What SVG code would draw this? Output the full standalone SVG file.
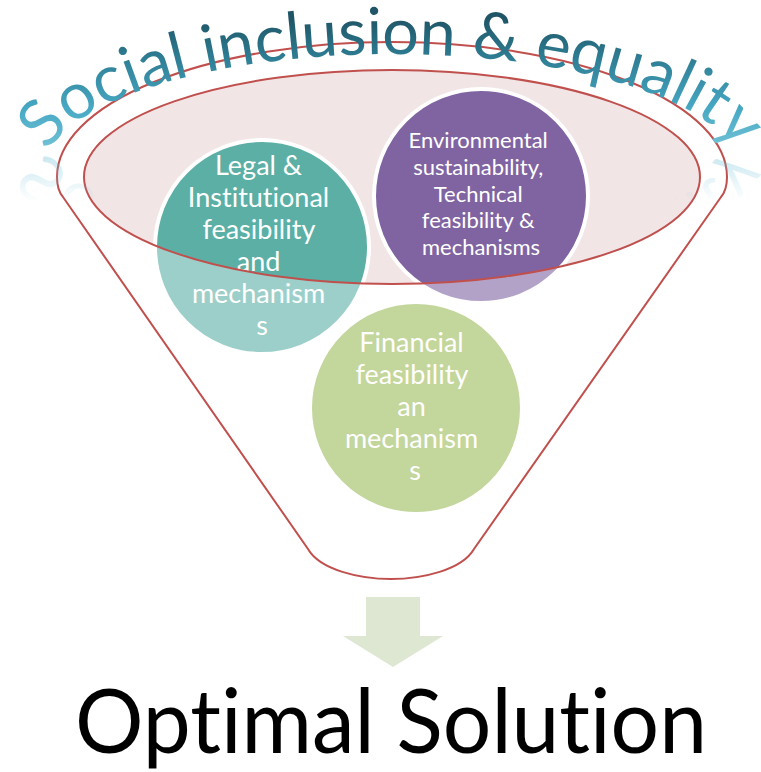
<svg xmlns="http://www.w3.org/2000/svg" width="761" height="772" viewBox="0 0 761 772">
  <defs>
    <style>
      text { font-variant-ligatures: none; font-feature-settings: "liga" 0, "clig" 0; }
      .lbl { font-family: Lato, "Open Sans", "Liberation Sans", sans-serif; fill: #FFFFFF; text-anchor: middle; }
      .big { font-size: 27px; }
      .small { font-size: 22px; }
      .ring { stroke: #FFFFFF; stroke-width: 4; }
      .red { fill: none; stroke: #C0504D; stroke-width: 2; }
      .title { font-family: Lato, "Open Sans", "Liberation Sans", sans-serif; font-size: 65px; }
    </style>
    <linearGradient id="titleGrad" gradientUnits="userSpaceOnUse" x1="0" y1="18" x2="0" y2="158">
      <stop offset="0" stop-color="#1F5566"/>
      <stop offset="0.3" stop-color="#2F7F96"/>
      <stop offset="0.65" stop-color="#48A9C4"/>
      <stop offset="1" stop-color="#7CC8DA"/>
    </linearGradient>
    <linearGradient id="reflGrad" gradientUnits="userSpaceOnUse" x1="0" y1="151" x2="0" y2="100">
      <stop offset="0" stop-color="#6CC0D6" stop-opacity="0.4"/>
      <stop offset="1" stop-color="#6CC0D6" stop-opacity="0"/>
    </linearGradient>
    <path id="arc" d="M 48,152 A 350 120 0 0 1 735,150"/>
  </defs>

  <rect width="761" height="772" fill="#FFFFFF"/>

  <g id="funnel-top">
    <ellipse cx="392" cy="177" rx="308" ry="107" fill="#F2E5E5"/>
  </g>

  <g id="node-legal">
    <circle cx="262" cy="247" r="107" fill="#5BAFA5" class="ring"/>
    <text class="lbl big" x="262">
      <tspan x="262" y="175">Legal &amp;</tspan>
      <tspan x="262" y="207">Institutional</tspan>
      <tspan x="262" y="239">feasibility</tspan>
      <tspan x="262" y="271">and</tspan>
      <tspan x="262" y="303">mechanism</tspan>
      <tspan x="262" y="335">s</tspan>
    </text>
  </g>

  <g id="node-environment">
    <circle cx="481" cy="196" r="107" fill="#8064A2" class="ring"/>
    <text class="lbl small" x="481">
      <tspan x="481" y="148">Environmental</tspan>
      <tspan x="481" y="175">sustainability,</tspan>
      <tspan x="481" y="202">Technical</tspan>
      <tspan x="481" y="228">feasibility &amp;</tspan>
      <tspan x="481" y="255">mechanisms</tspan>
    </text>
  </g>

  <g id="node-financial">
    <circle cx="416" cy="408" r="106" fill="#9BBB59" class="ring"/>
    <text class="lbl big" x="415">
      <tspan x="415" y="352">Financial</tspan>
      <tspan x="415" y="384">feasibility</tspan>
      <tspan x="415" y="416">an</tspan>
      <tspan x="415" y="448">mechanism</tspan>
      <tspan x="415" y="480">s</tspan>
    </text>
  </g>

  <g id="funnel">
    <path fill="#FFFFFF" fill-opacity="0.4" fill-rule="evenodd"
      d="M 63,197 Q 57,190 57,177 A 335 135 0 0 1 727,177 Q 727,190 721,197 L 474,549 C 462,570 422,579 391,579 C 360,579 320,570 308,549 Z
         M 84,177 A 308 107 0 1 0 700,177 A 308 107 0 1 0 84,177 Z"/>
    <path class="red" d="M 63,197 Q 57,190 57,177 A 335 135 0 0 1 727,177 Q 727,190 721,197 L 474,549 C 462,570 422,579 391,579 C 360,579 320,570 308,549 Z"/>
    <ellipse class="red" cx="392" cy="177" rx="308" ry="107"/>
  </g>

  <g id="title">
    <text class="title" fill="url(#reflGrad)" transform="translate(0,302) scale(1,-1)">
      <textPath href="#arc" textLength="736" lengthAdjust="spacing">Social inclusion &amp; equality</textPath>
    </text>
    <text class="title" fill="url(#titleGrad)">
      <textPath href="#arc" textLength="736" lengthAdjust="spacing">Social inclusion &amp; equality</textPath>
    </text>
  </g>

  <g id="connectors">
    <polygon points="366,597 420,597 420,636 443,636 393,667 343,636 366,636" fill="#DEE7D1"/>
  </g>

  <g id="node-result">
    <text x="391" y="753" font-family="Lato, 'Open Sans', 'Liberation Sans', sans-serif" font-size="90" fill="#000000" text-anchor="middle" textLength="632" lengthAdjust="spacingAndGlyphs">Optimal Solution</text>
  </g>
</svg>
